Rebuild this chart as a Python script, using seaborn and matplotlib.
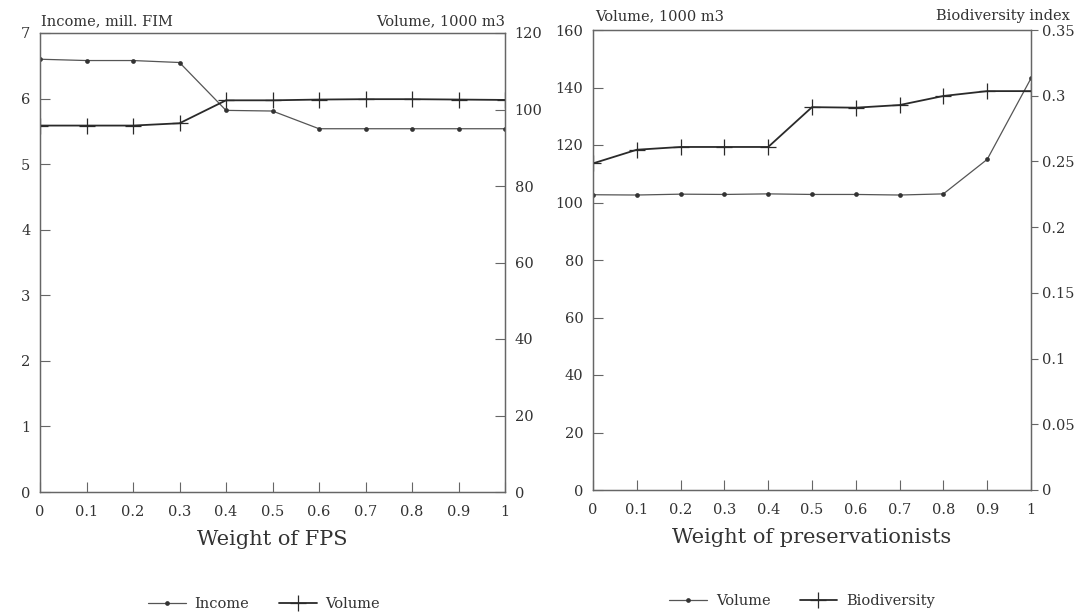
import matplotlib
matplotlib.use("Agg")
import matplotlib.pyplot as plt
import seaborn as sns
import numpy as np

# ---- data ----
weights = [0.0, 0.1, 0.2, 0.3, 0.4, 0.5, 0.6, 0.7, 0.8, 0.9, 1.0]
income_fps = [6.60, 6.58, 6.58, 6.55, 5.82, 5.81, 5.54, 5.54, 5.54, 5.54, 5.54]
volume_fps = [95.8, 95.8, 95.8, 96.4, 102.4, 102.4, 102.6, 102.7, 102.7, 102.6, 102.5]
volume_pres = [102.7, 102.6, 102.9, 102.8, 103.0, 102.8, 102.8, 102.6, 103.0, 115.0, 143.2]
biodiv_pres = [0.2485, 0.2589, 0.2610, 0.2610, 0.2610, 0.2913, 0.2909, 0.2929, 0.2998, 0.3035, 0.3035]

x_ticks = [0, 0.1, 0.2, 0.3, 0.4, 0.5, 0.6, 0.7, 0.8, 0.9, 1]
x_ticklabels = ["0", "0.1", "0.2", "0.3", "0.4", "0.5", "0.6", "0.7", "0.8", "0.9", "1"]
income_ticks = [0, 1, 2, 3, 4, 5, 6, 7]
vol_fps_ticks = [0, 20, 40, 60, 80, 100, 120]
vol_pres_ticks = [0, 20, 40, 60, 80, 100, 120, 140, 160]
biodiv_ticks = [0, 0.05, 0.1, 0.15, 0.2, 0.25, 0.3, 0.35]

sns.set_theme(style="white")
plt.rcParams["font.family"] = ["DejaVu Serif"]

TXT = "#333333"
SPINE = "#666666"
LINE_DOT = "#555555"
LINE_PLUS = "#2a2a2a"

W, H = 1078, 616
fig = plt.figure(figsize=(W / 100, H / 100), dpi=100)
fig.patch.set_facecolor("white")


def frac(x0, y0, x1, y1):
    return [x0 / W, 1 - y1 / H, (x1 - x0) / W, (y1 - y0) / H]


ax1 = fig.add_axes(frac(40, 33, 505, 492))
ax1r = ax1.twinx()
ax2 = fig.add_axes(frac(593, 30, 1031, 490))
ax2r = ax2.twinx()

dot_kw = dict(color=LINE_DOT, linewidth=0.9, marker="o", markersize=3.4,
              markeredgewidth=0, markerfacecolor="#333333",
              markeredgecolor="#333333")
plus_kw = dict(color=LINE_PLUS, linewidth=1.3, marker="+", markersize=11,
               markeredgewidth=0.9, markeredgecolor=LINE_PLUS,
               markerfacecolor=LINE_PLUS)

sns.lineplot(x=weights, y=income_fps, ax=ax1, label="Income", **dot_kw)
sns.lineplot(x=weights, y=volume_fps, ax=ax1r, label="Volume", **plus_kw)
sns.lineplot(x=weights, y=volume_pres, ax=ax2, label="Volume", **dot_kw)
sns.lineplot(x=weights, y=biodiv_pres, ax=ax2r, label="Biodiversity", **plus_kw)

for a in (ax1, ax1r, ax2, ax2r):
    lg = a.get_legend()
    if lg is not None:
        lg.remove()
    for s in a.spines.values():
        s.set_color(SPINE)
        s.set_linewidth(0.9)
    a.set_xlim(0, 1)
    a.set_xlabel("")
    a.set_ylabel("")

ax1.set_ylim(0, 7)
ax1r.set_ylim(0, 120)
ax2.set_ylim(0, 160)
ax2r.set_ylim(0, 0.35)

ax1.set_yticks(income_ticks)
ax1.set_yticklabels([str(v) for v in income_ticks])
ax1r.set_yticks(vol_fps_ticks)
ax1r.set_yticklabels([str(v) for v in vol_fps_ticks])
ax2.set_yticks(vol_pres_ticks)
ax2.set_yticklabels([str(v) for v in vol_pres_ticks])
ax2r.set_yticks(biodiv_ticks)
ax2r.set_yticklabels([f"{v:g}" for v in biodiv_ticks])

for a in (ax1, ax2):
    a.set_xticks(x_ticks)
    a.set_xticklabels(x_ticklabels)

fs_tick = 10.5
for a in (ax1, ax2):
    a.tick_params(axis="x", direction="in", length=7, width=0.8, color=SPINE,
                  labelsize=fs_tick, labelcolor=TXT, pad=9, bottom=True)
    a.tick_params(axis="y", direction="in", length=7, width=0.8, color=SPINE,
                  labelsize=fs_tick, labelcolor=TXT, pad=7, left=True)
ax1r.tick_params(axis="y", direction="in", length=7, width=0.8, color=SPINE,
                 labelsize=fs_tick, labelcolor=TXT, pad=7, right=True)
ax2r.tick_params(axis="y", direction="out", length=5, width=0.8, color=SPINE,
                 labelsize=fs_tick, labelcolor=TXT, pad=3, right=True)

# x axis labels
ax1.set_xlabel("Weight of FPS", fontsize=15, color=TXT, labelpad=8)
ax2.set_xlabel("Weight of preservationists", fontsize=15, color=TXT, labelpad=8)

# axis titles
fs_title = 10.5
fig.text(41 / W, 1 - 21 / H, "Income, mill. FIM", ha="left", va="center",
         fontsize=fs_title, color=TXT)
fig.text(505 / W, 1 - 21 / H, "Volume, 1000 m3", ha="right", va="center",
         fontsize=fs_title, color=TXT)
fig.text(595 / W, 1 - 16 / H, "Volume, 1000 m3", ha="left", va="center",
         fontsize=fs_title, color=TXT)
fig.text(1070 / W, 1 - 16 / H, "Biodiversity index", ha="right", va="center",
         fontsize=fs_title, color=TXT)

# legends
h1, l1 = ax1.get_legend_handles_labels()
h2, l2 = ax1r.get_legend_handles_labels()
fig.legend(h1 + h2, l1 + l2, loc="center", bbox_to_anchor=(264 / W, 1 - 604 / H),
           ncol=2, frameon=False, fontsize=10.5, handlelength=2.6,
           columnspacing=2.0, handletextpad=0.6, labelcolor=TXT)
h3, l3 = ax2.get_legend_handles_labels()
h4, l4 = ax2r.get_legend_handles_labels()
fig.legend(h3 + h4, l3 + l4, loc="center", bbox_to_anchor=(802 / W, 1 - 601 / H),
           ncol=2, frameon=False, fontsize=10.5, handlelength=2.6,
           columnspacing=2.0, handletextpad=0.6, labelcolor=TXT)

fig.savefig("out.png", dpi=100, facecolor="white")
